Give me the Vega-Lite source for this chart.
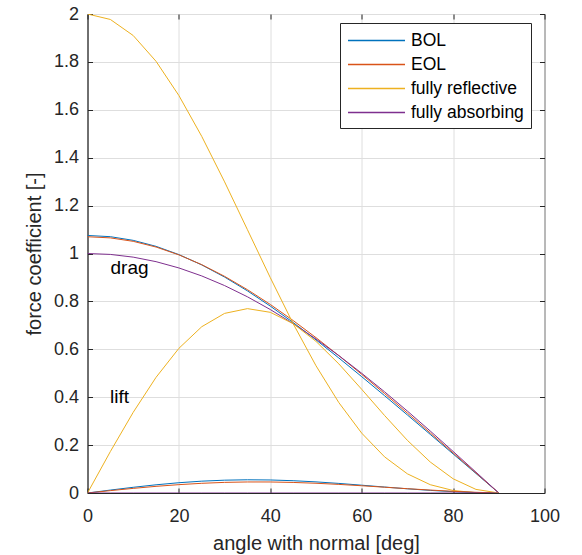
{
  "$schema": "https://vega.github.io/schema/vega-lite/v6.json",
  "width": 457,
  "height": 479,
  "autosize": {"type": "none"},
  "padding": {"left": 87.5, "top": 14, "right": 37.5, "bottom": 62},
  "background": "white",
  "config": {
    "font": "Liberation Sans",
    "view": {"stroke": "#262626", "strokeWidth": 1},
    "axis": {
      "domainColor": "#262626",
      "tickColor": "#262626",
      "labelColor": "#262626",
      "titleColor": "#262626",
      "gridColor": "#dedede",
      "labelFontSize": 18,
      "titleFontSize": 20,
      "titleFontWeight": "normal",
      "tickSize": -5,
      "labelFont": "Liberation Sans",
      "titleFont": "Liberation Sans"
    }
  },
  "datasets": {
    "curves": [
      {"a": 0, "curve": "drag", "BOL": 1.0753, "EOL": 1.07, "fully reflective": 2.0, "fully absorbing": 1.0},
      {"a": 5, "curve": "drag", "BOL": 1.0702, "EOL": 1.0652, "fully reflective": 1.9772, "fully absorbing": 0.9962},
      {"a": 10, "curve": "drag", "BOL": 1.0549, "EOL": 1.0508, "fully reflective": 1.9102, "fully absorbing": 0.9848},
      {"a": 15, "curve": "drag", "BOL": 1.0299, "EOL": 1.027, "fully reflective": 1.8024, "fully absorbing": 0.9659},
      {"a": 20, "curve": "drag", "BOL": 0.9954, "EOL": 0.9943, "fully reflective": 1.6595, "fully absorbing": 0.9397},
      {"a": 25, "curve": "drag", "BOL": 0.9524, "EOL": 0.9533, "fully reflective": 1.4889, "fully absorbing": 0.9063},
      {"a": 30, "curve": "drag", "BOL": 0.9016, "EOL": 0.9046, "fully reflective": 1.299, "fully absorbing": 0.866},
      {"a": 35, "curve": "drag", "BOL": 0.8439, "EOL": 0.8489, "fully reflective": 1.0993, "fully absorbing": 0.8192},
      {"a": 40, "curve": "drag", "BOL": 0.7803, "EOL": 0.7872, "fully reflective": 0.8991, "fully absorbing": 0.766},
      {"a": 45, "curve": "drag", "BOL": 0.7118, "EOL": 0.7201, "fully reflective": 0.7071, "fully absorbing": 0.7071},
      {"a": 50, "curve": "drag", "BOL": 0.6393, "EOL": 0.6486, "fully reflective": 0.5312, "fully absorbing": 0.6428},
      {"a": 55, "curve": "drag", "BOL": 0.5637, "EOL": 0.5735, "fully reflective": 0.3774, "fully absorbing": 0.5736},
      {"a": 60, "curve": "drag", "BOL": 0.4858, "EOL": 0.4955, "fully reflective": 0.25, "fully absorbing": 0.5},
      {"a": 65, "curve": "drag", "BOL": 0.4064, "EOL": 0.4153, "fully reflective": 0.151, "fully absorbing": 0.4226},
      {"a": 70, "curve": "drag", "BOL": 0.3258, "EOL": 0.3335, "fully reflective": 0.08, "fully absorbing": 0.342},
      {"a": 75, "curve": "drag", "BOL": 0.2447, "EOL": 0.2507, "fully reflective": 0.0347, "fully absorbing": 0.2588},
      {"a": 80, "curve": "drag", "BOL": 0.1632, "EOL": 0.1673, "fully reflective": 0.0105, "fully absorbing": 0.1736},
      {"a": 85, "curve": "drag", "BOL": 0.0816, "EOL": 0.0836, "fully reflective": 0.0013, "fully absorbing": 0.0872},
      {"a": 90, "curve": "drag", "BOL": 0.0, "EOL": 0.0, "fully reflective": 0.0, "fully absorbing": 0.0},
      {"a": 0, "curve": "lift", "BOL": 0.0, "EOL": 0.0, "fully reflective": 0.0, "fully absorbing": 0.0},
      {"a": 5, "curve": "lift", "BOL": 0.0122, "EOL": 0.0099, "fully reflective": 0.173, "fully absorbing": 0.0},
      {"a": 10, "curve": "lift", "BOL": 0.0238, "EOL": 0.0193, "fully reflective": 0.3368, "fully absorbing": 0.0},
      {"a": 15, "curve": "lift", "BOL": 0.0342, "EOL": 0.0278, "fully reflective": 0.483, "fully absorbing": 0.0},
      {"a": 20, "curve": "lift", "BOL": 0.0429, "EOL": 0.0349, "fully reflective": 0.604, "fully absorbing": 0.0},
      {"a": 25, "curve": "lift", "BOL": 0.0494, "EOL": 0.0405, "fully reflective": 0.6943, "fully absorbing": 0.0},
      {"a": 30, "curve": "lift", "BOL": 0.0535, "EOL": 0.0443, "fully reflective": 0.75, "fully absorbing": 0.0},
      {"a": 35, "curve": "lift", "BOL": 0.0552, "EOL": 0.0461, "fully reflective": 0.7698, "fully absorbing": 0.0},
      {"a": 40, "curve": "lift", "BOL": 0.0544, "EOL": 0.046, "fully reflective": 0.7544, "fully absorbing": 0.0},
      {"a": 45, "curve": "lift", "BOL": 0.0513, "EOL": 0.0441, "fully reflective": 0.7071, "fully absorbing": 0.0},
      {"a": 50, "curve": "lift", "BOL": 0.0464, "EOL": 0.0407, "fully reflective": 0.633, "fully absorbing": 0.0},
      {"a": 55, "curve": "lift", "BOL": 0.04, "EOL": 0.0359, "fully reflective": 0.539, "fully absorbing": 0.0},
      {"a": 60, "curve": "lift", "BOL": 0.0326, "EOL": 0.0303, "fully reflective": 0.433, "fully absorbing": 0.0},
      {"a": 65, "curve": "lift", "BOL": 0.0249, "EOL": 0.0242, "fully reflective": 0.3237, "fully absorbing": 0.0},
      {"a": 70, "curve": "lift", "BOL": 0.0175, "EOL": 0.018, "fully reflective": 0.2198, "fully absorbing": 0.0},
      {"a": 75, "curve": "lift", "BOL": 0.0109, "EOL": 0.0122, "fully reflective": 0.1294, "fully absorbing": 0.0},
      {"a": 80, "curve": "lift", "BOL": 0.0055, "EOL": 0.0071, "fully reflective": 0.0594, "fully absorbing": 0.0},
      {"a": 85, "curve": "lift", "BOL": 0.0018, "EOL": 0.0029, "fully reflective": 0.0151, "fully absorbing": 0.0},
      {"a": 90, "curve": "lift", "BOL": 0.0, "EOL": 0.0, "fully reflective": 0.0, "fully absorbing": 0.0}
    ],
    "notes": [
      {"a": 9.2, "v": 0.94, "label": "drag"},
      {"a": 7.0, "v": 0.40, "label": "lift"}
    ]
  },
  "resolve": {"axis": {"x": "independent", "y": "independent"}},
  "layer": [
    {
      "data": {"name": "curves"},
      "transform": [
        {"fold": ["BOL", "EOL", "fully reflective", "fully absorbing"], "as": ["series", "v"]}
      ],
      "mark": {"type": "line", "strokeWidth": 1, "clip": true},
      "encoding": {
        "x": {
          "field": "a", "type": "quantitative",
          "scale": {"domain": [0, 100], "nice": false, "zero": false},
          "axis": {"values": [0, 20, 40, 60, 80, 100], "title": "angle with normal [deg]", "grid": true, "labelPadding": 19, "titlePadding": 8, "labelFlush": false}
        },
        "y": {
          "field": "v", "type": "quantitative",
          "scale": {"domain": [0, 2], "nice": false},
          "axis": {"values": [0, 0.2, 0.4, 0.6, 0.8, 1, 1.2, 1.4, 1.6, 1.8, 2], "format": "~g", "title": "force coefficient [-]", "grid": true, "labelPadding": 14, "titlePadding": 9, "labelFlush": false}
        },
        "color": {
          "field": "series", "type": "nominal",
          "scale": {"domain": ["BOL", "EOL", "fully reflective", "fully absorbing"], "range": ["#0072BD", "#D95319", "#EDB120", "#7E2F8E"]},
          "legend": {
            "orient": "none", "legendX": 252.5, "legendY": 9,
            "title": null,
            "symbolType": "M-3,0H3", "symbolSize": 361, "symbolStrokeWidth": 1.4, "symbolOpacity": 1,
            "labelFontSize": 17.5, "labelColor": "#000000", "labelFont": "Liberation Sans",
            "strokeColor": "#262626", "fillColor": "white",
            "padding": 7, "rowPadding": 5, "labelOffset": 24,
            "symbolOffset": 19
          }
        },
        "detail": {"field": "curve", "type": "nominal"}
      }
    },
    {
      "data": {"name": "notes"},
      "mark": {"type": "text", "fontSize": 19, "align": "center", "baseline": "middle", "color": "#000000", "font": "Liberation Sans"},
      "encoding": {
        "x": {"field": "a", "type": "quantitative", "axis": {"orient": "top", "values": [0, 20, 40, 60, 80, 100], "labels": false, "title": null, "grid": false, "domain": false}},
        "y": {"field": "v", "type": "quantitative", "axis": {"orient": "right", "values": [0, 0.2, 0.4, 0.6, 0.8, 1, 1.2, 1.4, 1.6, 1.8, 2], "labels": false, "title": null, "grid": false, "domain": false}},
        "text": {"field": "label"}
      }
    }
  ]
}
